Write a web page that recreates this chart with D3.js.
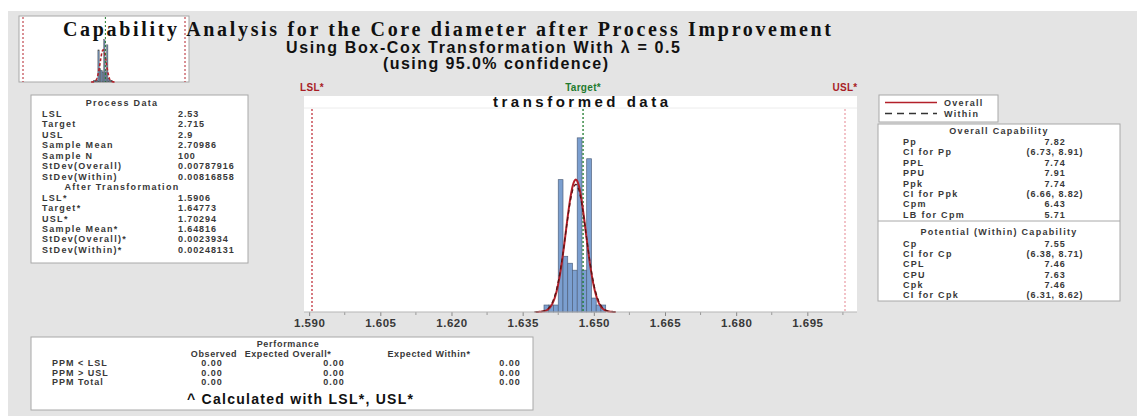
<!DOCTYPE html>
<html>
<head>
<meta charset="utf-8">
<script src="https://cdn.jsdelivr.net/npm/d3@7"></script>
<style>
  body { margin: 0; background: #fff; }
  svg { display: block; font-family: "Liberation Sans", Arial, sans-serif; }
</style>
</head>
<body>
<div id="chart"></div>
<script>
// ---- data ----
const titleLines = [
  'Capability Analysis for the Core diameter after Process Improvement',
  'Using Box-Cox Transformation With \u03bb = 0.5',
  '(using 95.0% confidence)'
];

// histogram of the transformed data (bin left edge, frequency)
const binWidth = 0.001;
const binLeft = [1.6395, 1.6405, 1.6415, 1.6425, 1.6435, 1.6445, 1.6455,
                 1.6465, 1.6475, 1.6485, 1.6495, 1.6505, 1.6515];
const binCount = [1, 1, 1, 19, 8, 7, 6, 25, 6, 22, 2, 1, 1];
const sampleN = 100;

// fitted normal curves (as drawn)
const curveNames = ['Overall', 'Within'];
const curveMean = 1.6462;
const curveSd = [0.0021, 0.00218];

// spec limits after transformation
const specNames = ['LSL*', 'Target*', 'USL*'];
const specValues = [1.5906, 1.64773, 1.70294];

const xTicks = [1.590, 1.605, 1.620, 1.635, 1.650, 1.665, 1.680, 1.695];

const processLabels = ['LSL', 'Target', 'USL', 'Sample Mean', 'Sample N', 'StDev(Overall)', 'StDev(Within)'];
const processValues = ['2.53', '2.715', '2.9', '2.70986', '100', '0.00787916', '0.00816858'];
const transLabels = ['LSL*', 'Target*', 'USL*', 'Sample Mean*', 'StDev(Overall)*', 'StDev(Within)*'];
const transValues = ['1.5906', '1.64773', '1.70294', '1.64816', '0.0023934', '0.00248131'];

const overallLabels = ['Pp', 'CI for Pp', 'PPL', 'PPU', 'Ppk', 'CI for Ppk', 'Cpm', 'LB for Cpm'];
const overallValues = ['7.82', '(6.73, 8.91)', '7.74', '7.91', '7.74', '(6.66, 8.82)', '6.43', '5.71'];
const withinLabels = ['Cp', 'CI for Cp', 'CPL', 'CPU', 'Cpk', 'CI for Cpk'];
const withinValues = ['7.55', '(6.38, 8.71)', '7.46', '7.63', '7.46', '(6.31, 8.62)'];

const perfColumns = ['Observed', 'Expected Overall*', 'Expected Within*'];
const perfRows = ['PPM < LSL', 'PPM > USL', 'PPM Total'];
const perfObserved = ['0.00', '0.00', '0.00'];
const perfExpOverall = ['0.00', '0.00', '0.00'];
const perfExpWithin = ['0.00', '0.00', '0.00'];

// ---- drawing ----
const W = 1137, H = 416;
const RED = '#b3202a', GREEN = '#1f7a2e', INK = '#383838';

const svg = d3.select('#chart').append('svg')
  .attr('width', W).attr('height', H);

svg.append('rect').attr('width', W).attr('height', H).attr('fill', '#fff');
svg.append('rect').attr('x', 8).attr('y', 11).attr('width', W - 8).attr('height', H - 11)
  .attr('fill', '#e4e4e4');

function addText(g, x, y, s, o = {}) {
  const t = g.append('text')
    .attr('x', x).attr('y', y)
    .attr('font-size', o.size || 9)
    .attr('font-weight', o.weight || 'bold')
    .attr('fill', o.fill || INK)
    .attr('letter-spacing', o.ls !== undefined ? o.ls : 1.3)
    .attr('text-anchor', o.anchor || 'start')
    .text(s);
  if (o.family) t.attr('font-family', o.family);
  if (o.len) t.attr('textLength', o.len).attr('lengthAdjust', 'spacing');
  return t;
}

function boxRect(x0, y0, x1, y1) {
  svg.append('rect')
    .attr('x', x0).attr('y', y0).attr('width', x1 - x0).attr('height', y1 - y0)
    .attr('fill', '#fff').attr('stroke', '#a8a8a8').attr('stroke-width', 1);
}

function densityLine(xs, ys, mean, sd) {
  const pts = d3.range(-4, 4.001, 0.05).map(z => {
    const v = mean + z * sd;
    const dens = Math.exp(-0.5 * z * z) / (sd * Math.sqrt(2 * Math.PI));
    return [xs(v), ys(dens * sampleN * binWidth)];
  });
  return d3.line()(pts);
}

// main scales
const x = d3.scaleLinear().domain([specValues[0], specValues[2]]).range([312, 845]);
const y = d3.scaleLinear().domain([0, 29]).range([312, 110]);
const panel = { x0: 304, x1: 857, y0: 96, y1: 312 };

// ---- thumbnail ----
const tx = d3.scaleLinear().domain([specValues[0], specValues[2]]).range([23, 185]);
const ty = d3.scaleLinear().domain([0, 29]).range([82, 33]);
boxRect(19, 16, 189, 82);
const thumb = svg.append('g');
thumb.selectAll('rect.tb').data(binLeft).enter().append('rect')
  .attr('x', d => tx(d)).attr('width', d => tx(d + binWidth) - tx(d))
  .attr('y', (d, i) => ty(binCount[i]))
  .attr('height', (d, i) => ty(0) - ty(binCount[i]))
  .attr('fill', '#6a85a8').attr('stroke', '#555').attr('stroke-width', 0.4);
thumb.append('path').attr('d', densityLine(tx, ty, curveMean, curveSd[0]))
  .attr('fill', 'none').attr('stroke', RED).attr('stroke-width', 1.6)
  .attr('stroke-dasharray', '3,2');
specValues.forEach((v, i) => {
  thumb.append('line').attr('x1', tx(v)).attr('x2', tx(v)).attr('y1', 17).attr('y2', 82)
    .attr('stroke', i === 1 ? GREEN : RED).attr('stroke-width', 1)
    .attr('stroke-dasharray', '2,2');
});

// ---- titles ----
addText(svg, 63, 36, titleLines[0], { size: 20, ls: 0, family: '"Liberation Serif", "Times New Roman", serif', fill: '#111', len: 768 });
addText(svg, 286, 53, titleLines[1], { size: 16, ls: 0, fill: '#111', len: 394 });
addText(svg, 383, 69, titleLines[2], { size: 16, ls: 0, fill: '#111', len: 225 });

// ---- histogram panel ----
svg.append('rect').attr('x', panel.x0).attr('y', panel.y0)
  .attr('width', panel.x1 - panel.x0).attr('height', panel.y1 - panel.y0)
  .attr('fill', '#fff');
svg.append('line').attr('x1', panel.x0).attr('x2', panel.x1).attr('y1', 108).attr('y2', 108)
  .attr('stroke', '#ececec');
addText(svg, (panel.x0 + panel.x1) / 2, 106.5, 'transformed data', { size: 15, ls: 0, anchor: 'middle', fill: '#111', len: 175 });

specValues.forEach((v, i) => {
  addText(svg, x(v), 91, specNames[i], { size: 10, ls: 0.3, anchor: 'middle', fill: i === 1 ? GREEN : '#a81c24' });
});

svg.append('g').selectAll('rect').data(binLeft).enter().append('rect')
  .attr('x', d => x(d)).attr('width', d => x(d + binWidth) - x(d))
  .attr('y', (d, i) => y(binCount[i]))
  .attr('height', (d, i) => y(0) - y(binCount[i]))
  .attr('fill', '#7b9fd0').attr('stroke', '#50627e').attr('stroke-width', 0.7);

// spec reference lines
specValues.forEach((v, i) => {
  svg.append('line').attr('x1', x(v)).attr('x2', x(v)).attr('y1', 109).attr('y2', panel.y1)
    .attr('stroke', i === 1 ? GREEN : (i === 0 ? '#c0333c' : '#eba3ab'))
    .attr('stroke-width', 1.3).attr('stroke-dasharray', '2,2');
});

// fitted curves
svg.append('path').attr('d', densityLine(x, y, curveMean, curveSd[0]))
  .attr('fill', 'none').attr('stroke', RED).attr('stroke-width', 2);
svg.append('path').attr('d', densityLine(x, y, curveMean, curveSd[1]))
  .attr('fill', 'none').attr('stroke', '#5a1414').attr('stroke-width', 1.3)
  .attr('stroke-dasharray', '4,3');

// x axis
const minorTicks = xTicks.map(t => t + 0.0075).filter(t => x(t) < panel.x1);
const axisG = svg.append('g').attr('transform', `translate(0,${panel.y1})`);
axisG.call(d3.axisBottom(x).tickValues(xTicks).tickFormat(d3.format('.3f')).tickSize(4).tickPadding(3));
axisG.select('.domain').remove();
axisG.selectAll('.tick line').attr('stroke', '#888');
axisG.selectAll('.tick text').attr('font-size', 11.5).attr('font-weight', 'bold')
  .attr('fill', INK).attr('letter-spacing', 0.5)
  .attr('font-family', '"Liberation Sans", Arial, sans-serif');
axisG.selectAll('line.minor').data(minorTicks).enter().append('line')
  .attr('class', 'minor').attr('x1', d => x(d)).attr('x2', d => x(d))
  .attr('y1', 0).attr('y2', 3).attr('stroke', '#999');
svg.append('line').attr('x1', panel.x0).attr('x2', panel.x1).attr('y1', panel.y1).attr('y2', panel.y1)
  .attr('stroke', '#b5b5b5');

// ---- process data box ----
boxRect(31, 95, 248, 263);
const pg = svg.append('g');
const rowH = 10.45;
addText(pg, 122, 106, 'Process Data', { anchor: 'middle' });
processLabels.forEach((lab, i) => {
  const yy = 117 + i * rowH;
  addText(pg, 42, yy, lab);
  addText(pg, 178, yy, processValues[i], { ls: 0.9 });
});
addText(pg, 122, 117 + 7 * rowH, 'After Transformation', { anchor: 'middle' });
transLabels.forEach((lab, i) => {
  const yy = 117 + (8 + i) * rowH;
  addText(pg, 42, yy, lab);
  addText(pg, 178, yy, transValues[i], { ls: 0.9 });
});

// ---- legend ----
boxRect(879, 95, 998, 122);
svg.append('line').attr('x1', 885).attr('x2', 937).attr('y1', 102.5).attr('y2', 102.5)
  .attr('stroke', RED).attr('stroke-width', 1.5);
svg.append('line').attr('x1', 885).attr('x2', 937).attr('y1', 113.5).attr('y2', 113.5)
  .attr('stroke', '#333').attr('stroke-width', 1.3).attr('stroke-dasharray', '7,5');
addText(svg, 944, 106, curveNames[0]);
addText(svg, 944, 117, curveNames[1]);

// ---- capability box ----
boxRect(878, 124, 1120, 301);
const cg = svg.append('g');
addText(cg, 999, 134, 'Overall Capability', { anchor: 'middle' });
overallLabels.forEach((lab, i) => {
  const yy = 145 + i * 10.4;
  addText(cg, 903, yy, lab);
  addText(cg, 1055, yy, overallValues[i], { anchor: 'middle', ls: 0.9 });
});
cg.append('line').attr('x1', 878).attr('x2', 1120).attr('y1', 221).attr('y2', 221)
  .attr('stroke', '#a8a8a8');
addText(cg, 999, 235, 'Potential (Within) Capability', { anchor: 'middle' });
withinLabels.forEach((lab, i) => {
  const yy = 247 + i * 10.2;
  addText(cg, 903, yy, lab);
  addText(cg, 1055, yy, withinValues[i], { anchor: 'middle', ls: 0.9 });
});

// ---- performance box ----
boxRect(31, 337, 533, 410);
const fg = svg.append('g');
addText(fg, 288, 347, 'Performance', { anchor: 'middle', ls: 0.7 });
const colHead = [214, 288, 429];
const colVal = [212, 334, 510];
perfColumns.forEach((c, j) => addText(fg, colHead[j], 357, c, { anchor: 'middle', ls: 0.6 }));
[perfObserved, perfExpOverall, perfExpWithin].forEach((vals, j) => {
  vals.forEach((v, i) => addText(fg, colVal[j], 366 + i * 9.6, v, { anchor: 'middle', ls: 1 }));
});
perfRows.forEach((r, i) => addText(fg, 52, 366 + i * 9.6, r, { ls: 1 }));
addText(fg, 300, 404, '^ Calculated with LSL*, USL*', { size: 14, ls: 0, anchor: 'middle', fill: '#111', len: 226 });
</script>
</body>
</html>
